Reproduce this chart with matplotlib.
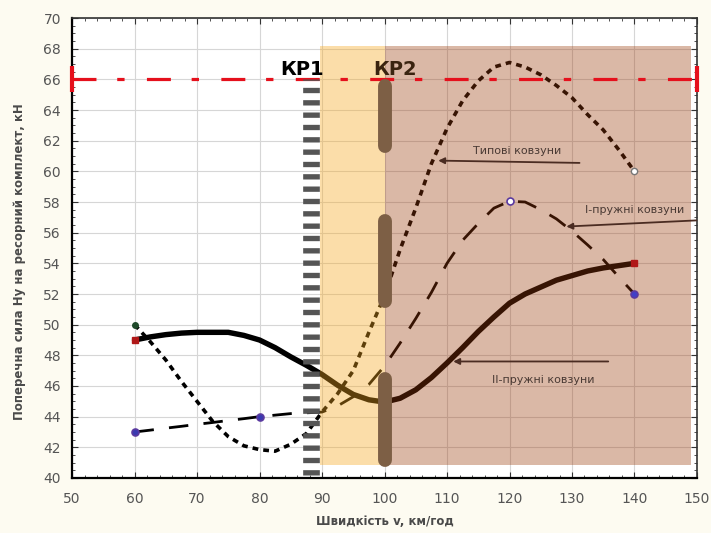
import matplotlib
matplotlib.use("Agg")
import matplotlib.pyplot as plt
from matplotlib.patches import Rectangle
from matplotlib.ticker import MultipleLocator

# speeds, km/h
speed = [60, 62.5, 65, 67.5, 70, 72.5, 75, 77.5, 80, 82.5, 85, 87.5, 90,
         92.5, 95, 97.5, 100, 102.5, 105, 107.5, 110, 112.5, 115, 117.5,
         120, 122.5, 125, 127.5, 130, 132.5, 135, 137.5, 140]

# lateral force Hy, kN
typical = [50.0, 48.9, 47.7, 46.3, 45.0, 43.7, 42.7, 42.1, 41.85, 41.75,
           42.2, 42.9, 44.3, 45.5, 47.0, 49.5, 51.9, 54.9, 57.6, 60.5,
           62.8, 64.6, 65.9, 66.8, 67.1, 66.8, 66.3, 65.6, 64.8, 63.7,
           62.7, 61.4, 60.0]
spring1 = [43.0, 43.12, 43.25, 43.37, 43.5, 43.62, 43.75, 43.87, 44.0,
           44.1, 44.2, 44.25, 44.3, 44.7, 45.3, 46.1, 47.3, 48.8, 50.4,
           52.1, 54.0, 55.5, 56.6, 57.6, 58.05, 58.0, 57.5, 56.9, 56.1,
           55.2, 54.25, 53.1, 52.0]
spring2 = [49.0, 49.2, 49.35, 49.45, 49.5, 49.5, 49.5, 49.3, 49.0, 48.5,
           47.9, 47.35, 46.75, 46.05, 45.45, 45.1, 44.95, 45.2, 45.75,
           46.55, 47.5, 48.5, 49.55, 50.5, 51.4, 52.0, 52.45, 52.9, 53.2,
           53.5, 53.7, 53.85, 54.0]

limit_force = 66
kr1_speed, kr2_speed = 88.3, 100
kr2_segments = [(61.3, 65.9), (51.2, 57.1), (40.8, 46.8)]

BG = "#fdfbf1"
ORANGE = "#f7a81e"
BROWN = "#9b3a0a"
KR2_COL = "#7d5f45"
ARROW = "#4a2c22"

fig = plt.figure(figsize=(7.11, 5.33), dpi=100, facecolor=BG)
ax = fig.add_axes([0.1013, 0.1032, 0.8790, 0.8630])
ax.set_facecolor("white")

ax.set_xlim(50, 150)
ax.set_ylim(40, 70)
ax.xaxis.set_major_locator(MultipleLocator(10))
ax.yaxis.set_major_locator(MultipleLocator(2))
ax.xaxis.set_minor_locator(MultipleLocator(2))
ax.yaxis.set_minor_locator(MultipleLocator(0.5))
ax.grid(True, which="major", color="#d6d6d6", lw=0.8, zorder=0)
ax.tick_params(which="both", direction="in", top=True, right=True,
               colors="#333333", labelcolor="#555555", labelsize=10)
ax.tick_params(which="major", length=4)
ax.tick_params(which="minor", length=2)
ax.tick_params(axis="y", pad=8)
ax.tick_params(axis="x", pad=10)
for side in ("left", "bottom"):
    ax.spines[side].set_linewidth(1.6)
for side in ("top", "right"):
    ax.spines[side].set_linewidth(1.2)
    ax.spines[side].set_color("#333333")

# curves
ax.plot(speed, typical, color="black", lw=2.6, ls=(0, (1.6, 1.4)), zorder=3)
ax.plot(speed, spring1, color="black", lw=2.0, ls=(0, (7, 5.5)), zorder=3)
ax.plot(speed, spring2, color="black", lw=3.9, zorder=3,
        solid_capstyle="round")

# shaded zones drawn over the curves, like the original
ax.add_patch(Rectangle((89.7, 40.85), 100 - 89.7, 68.2 - 40.85,
                       facecolor=ORANGE, alpha=0.38, lw=0, zorder=4))
ax.add_patch(Rectangle((100, 40.85), 149.1 - 100, 68.2 - 40.85,
                       facecolor=BROWN, alpha=0.36, lw=0, zorder=4))

# markers
ax.plot(speed[0], typical[0], "o", ms=4, color="#1f4a2a", zorder=6)
ax.plot(speed[-1], typical[-1], "o", ms=4.5, mfc="white", mec="#777777",
        zorder=6)
for i, face in ((0, "#3a3ab0"), (8, "#3a3ab0"), (24, "white"), (-1, "#4040c8")):
    ax.plot(speed[i], spring1[i], "o", ms=5, mfc=face, mec="#5a3aa0",
            mew=1.2, zorder=6)
for i in (0, -1):
    ax.plot(speed[i], spring2[i], "s", ms=5, color="#b01818", zorder=6)

# limit line with end caps
ax.plot([50, 150], [limit_force, limit_force], color="#e5101c", lw=2.3,
        ls=(0, (7.5, 6.5, 2.3, 7.0)), zorder=5, clip_on=False)
ax.plot([50, 150], [limit_force, limit_force], "|", color="#e5101c",
        ms=19, mew=3, zorder=6, clip_on=False)

# critical speeds
ax.plot([kr1_speed, kr1_speed], [40.2, limit_force], color="#555555",
        lw=12, ls=(0, (0.32, 0.42)), solid_capstyle="butt", zorder=5)
for lo, hi in kr2_segments:
    ax.plot([kr2_speed, kr2_speed], [lo + 0.35, hi - 0.35], color=KR2_COL,
            lw=10, solid_capstyle="round", zorder=5)

ax.text(90.3, 66.05, "КР1", fontsize=14, fontweight="bold", ha="right",
        va="bottom", color="black", zorder=7)
ax.text(98.2, 66.05, "КР2", fontsize=14, fontweight="bold", ha="left",
        va="bottom", color="#3a2410", zorder=7)

# curve labels
arrow = dict(arrowstyle="-|>", color=ARROW, lw=1.3, mutation_scale=9,
             shrinkA=0, shrinkB=0)
ax.annotate("", xy=(108.6, 60.7), xytext=(131.2, 60.55), arrowprops=arrow,
            zorder=7)
ax.text(121.2, 61.3, "Типові ковзуни", fontsize=8, color="#4a3a34",
        ha="center", va="center", zorder=7)
ax.annotate("", xy=(129.1, 56.4), xytext=(149.9, 56.8), arrowprops=arrow,
            zorder=7)
ax.text(140.0, 57.5, "І-пружні ковзуни", fontsize=8, color="#4a3a34",
        ha="center", va="center", zorder=7)
ax.annotate("", xy=(111.0, 47.6), xytext=(135.8, 47.6), arrowprops=arrow,
            zorder=7)
ax.text(125.4, 46.4, "ІІ-пружні ковзуни", fontsize=8, color="#4a3a34",
        ha="center", va="center", zorder=7)

fig.text(0.027, 0.51, "Поперечна сила Ну на ресорний комплект, кН",
         rotation=90, ha="center", va="center", fontsize=8.5,
         color="#4a4a4a", fontweight="bold")
fig.text(0.541, 0.021, "Швидкість v, км/год", ha="center", va="center",
         fontsize=8.5, color="#4a4a4a", fontweight="bold")

fig.savefig("out.png", dpi=100, facecolor=BG)
